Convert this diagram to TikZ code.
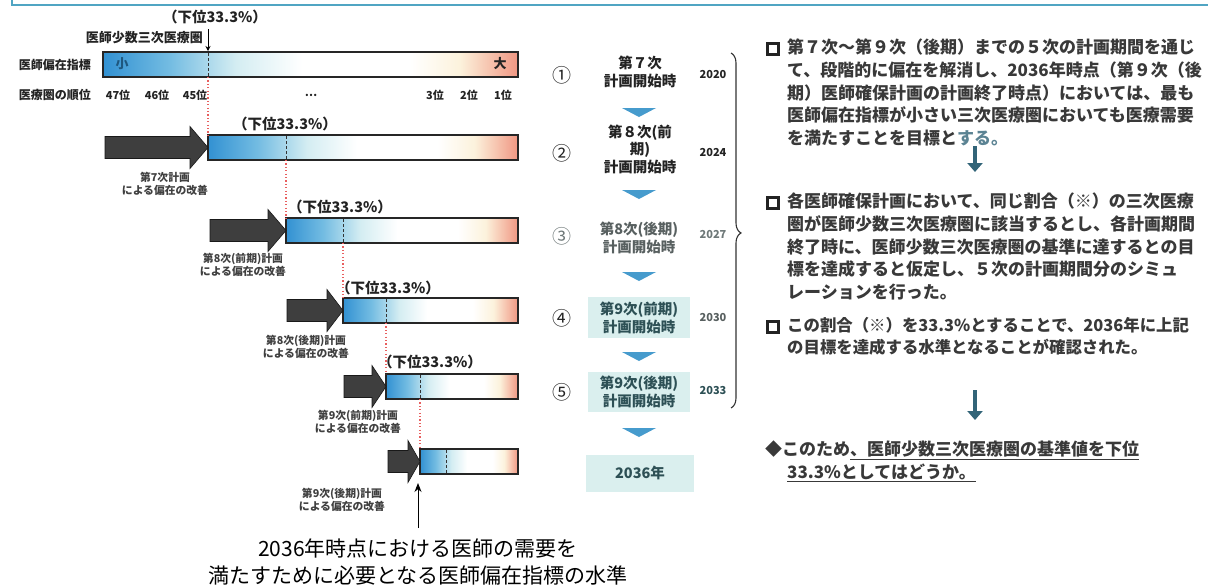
\documentclass[tikz,border=0pt]{standalone}
\usepackage{fontspec}
\setmainfont{Noto Sans CJK JP}
\usetikzlibrary{decorations.pathreplacing,arrows.meta}
\definecolor{barblue}{RGB}{50,145,210}
\definecolor{barmid}{RGB}{115,188,226}
\definecolor{barcyan}{RGB}{212,237,242}
\definecolor{barcream}{RGB}{252,242,220}
\definecolor{barpink}{RGB}{240,150,130}
\definecolor{arrowgray}{RGB}{62,62,62}
\definecolor{reddot}{RGB}{232,95,95}
\definecolor{triblue}{RGB}{70,155,205}
\definecolor{tealbox}{RGB}{218,239,238}
\definecolor{tealtext}{RGB}{45,80,85}
\definecolor{fadetext}{RGB}{110,120,120}
\definecolor{topline}{RGB}{80,165,195}
\definecolor{textdark}{RGB}{35,35,35}
\definecolor{arrowteal}{RGB}{50,100,120}
\pgfdeclarehorizontalshading{barshade}{100bp}{color(0bp)=(barblue); color(25bp)=(barblue); color(33bp)=(barmid); color(41bp)=(barcyan); color(49bp)=(white); color(62bp)=(white); color(68bp)=(barcream); color(75bp)=(barpink); color(100bp)=(barpink)}
\tikzset{
  barbox/.style={draw=black!85, line width=1.2pt},
  barmarker/.style={draw=black!80, line width=1pt, dash pattern=on 3pt off 2pt},
  reddots/.style={draw=reddot, line width=1.1pt, dash pattern=on 1.2pt off 2.2pt},
  blockarr/.style={fill=arrowgray, draw=black!90, line width=0.6pt},
  pctlabel/.style={font=\fontsize{14.5}{16}\selectfont\bfseries, text=textdark, inner sep=0pt},
  capnote/.style={font=\fontsize{10.8}{13}\selectfont\bfseries, text=black!75, align=center, inner sep=0pt},
  sidelabel/.style={font=\fontsize{12}{14}\selectfont\bfseries, text=textdark, inner sep=0pt},
  ranklabel/.style={font=\fontsize{11}{13}\selectfont\bfseries, text=textdark, inner sep=0pt},
  circnum/.style={font=\fontsize{19}{20}\selectfont, text=textdark, inner sep=0pt},
  stagetext/.style={font=\fontsize{14.5}{17.5}\selectfont\bfseries, text=textdark, align=center, inner sep=0pt},
  yearlabel/.style={font=\fontsize{11}{13}\selectfont\bfseries, text=textdark, inner sep=0pt},
  downtri/.style={fill=triblue, draw=none},
  bodytext/.style={font=\fontsize{17}{22.6}\selectfont\bfseries, text=textdark!90!white, align=left, inner sep=0pt, anchor=north west},
  bulletsq/.style={draw=textdark, line width=2.4pt, minimum size=11pt, inner sep=0pt},
  downarr/.style={draw=arrowteal, line width=3.2pt, -{Triangle[length=9pt,width=15pt]}},
  bottomtxt/.style={font=\fontsize{21}{27}\selectfont, text=black, inner sep=0pt}
}
\begin{document}
\begin{tikzpicture}[x=1pt,y=-1pt]
\useasboundingbox (0,0) rectangle (1208,587);
\fill[white] (0,0) rectangle (1208,587);
% top frame edge
\draw[topline, line width=2pt] (12,0) -- (12,5) -- (1208,5);

% left labels
\node[sidelabel] (lblidx) at (55,65) {医師偏在指標};
\node[sidelabel] (lblrank) at (55,95) {医療圏の順位};
\node[pctlabel] (pct0) at (215,17) {（下位33.3\%）};
\node[sidelabel, anchor=east, font=\fontsize{13}{15}\selectfont\bfseries] (shosu) at (203,38) {医師少数三次医療圏};
\coordinate (shosuarr) at (208,29);

% bars
\foreach \L/\T/\M [count=\i] in {103/52/208, 208/135/286, 286/218/343, 343/298/386, 386/374/420, 420/449/446}{
  \path[shading=barshade] (\L,\T) rectangle (518,\T+25);
  \draw[barbox] (\L,\T) rectangle (518,\T+25);
  \draw[barmarker] (\M,\T+1) -- (\M,\T+24);
  \coordinate (bartop\i) at (\L,\T);
  \coordinate (barbot\i) at (\M,\T+25);
}
\draw[-{Stealth[length=5pt,width=5pt]}, line width=0.9pt, black] (shosuarr) -- (208,51);

% red dotted guides
\draw[reddots] (barbot1) -- (bartop2);
\draw[reddots] (barbot2) -- (bartop3);
\draw[reddots] (barbot3) -- (bartop4);
\draw[reddots] (barbot4) -- (bartop5);
\draw[reddots] (barbot5) -- (bartop6);

% block arrows
\foreach \a/\b/\c/\h in {105/208/147.5/18, 210/286/230.5/18, 287/343/310.5/16, 344/386/386.5/14, 388/420/461.5/12}{
  \draw[blockarr] (\a,\c-11) -- (\b-\h,\c-11) -- (\b-\h,\c-21) -- (\b,\c) -- (\b-\h,\c+21) -- (\b-\h,\c+11) -- (\a,\c+11) -- cycle;
}

% bar labels
\node[ranklabel, text=barblue!60!black, font=\fontsize{13}{15}\selectfont\bfseries] (small) at (122,64) {小};
\node[ranklabel, font=\fontsize{13}{15}\selectfont\bfseries] (big) at (500,64) {大};
\node[ranklabel] (r47) at (118,95) {47位};
\node[ranklabel] (r46) at (157,95) {46位};
\node[ranklabel] (r45) at (195,95) {45位};
\node[ranklabel] (rdots) at (311,95) {…};
\node[ranklabel] (r3) at (435,95) {3位};
\node[ranklabel] (r2) at (469,95) {2位};
\node[ranklabel] (r1) at (503,95) {1位};

\node[pctlabel] (pct1) at (285,124) {（下位33.3\%）};
\node[pctlabel] (pct2) at (340,207) {（下位33.3\%）};
\node[pctlabel] (pct3) at (388,288) {（下位33.3\%）};
\node[pctlabel] (pct4) at (430,362) {（下位33.3\%）};

\node[capnote] (cap1) at (165,184) {第7次計画\\による偏在の改善};
\node[capnote] (cap2) at (243,265) {第8次(前期)計画\\による偏在の改善};
\node[capnote] (cap3) at (306,347) {第8次(後期)計画\\による偏在の改善};
\node[capnote] (cap4) at (358,422) {第9次(前期)計画\\による偏在の改善};
\node[capnote] (cap5) at (342,500) {第9次(後期)計画\\による偏在の改善};

% up arrow and bottom text
\coordinate (upfoot) at (418,528);
\draw[-{Stealth[length=9pt,width=7pt]}, line width=1pt] (upfoot) -- (418,483);
\node[bottomtxt] (bt1) at (418,548) {2036年時点における医師の需要を};
\node[bottomtxt] (bt2) at (418,575) {満たすために必要となる医師偏在指標の水準};

% middle column
\fill[tealbox] (588,297) rectangle (690,338);
\fill[tealbox] (588,372) rectangle (690,412);
\fill[tealbox] (586,455) rectangle (694,492);
\node[circnum] (c1) at (562,75) {①};
\node[circnum] (c2) at (562,153) {②};
\node[circnum, text=fadetext] (c3) at (562,236) {③};
\node[circnum] (c4) at (562,318) {④};
\node[circnum] (c5) at (562,392) {⑤};
\node[stagetext] (s1) at (640,72) {第７次\\計画開始時};
\node[stagetext] (s2) at (640,149) {第８次(前\\期)\\計画開始時};
\node[stagetext, text=fadetext!80!black] (s3) at (639,238) {第8次(後期)\\計画開始時};
\node[stagetext, text=tealtext] (s4) at (639,318) {第9次(前期)\\計画開始時};
\node[stagetext, text=tealtext] (s5) at (639,392) {第9次(後期)\\計画開始時};
\node[stagetext, text=tealtext] (s6) at (640,473) {2036年};
\foreach \t in {108,190,272,352,428}{
  \fill[downtri] (622,\t) -- (656,\t) -- (639,\t+9) -- cycle;
}
\node[yearlabel] (y1) at (713,75) {2020};
\node[yearlabel] (y2) at (713,153) {2024};
\node[yearlabel, text=fadetext] (y3) at (713,235) {2027};
\node[yearlabel, text=fadetext!80!black] (y4) at (713,318) {2030};
\node[yearlabel, text=tealtext] (y5) at (713,391) {2033};
\coordinate (brtop) at (731,53);
\coordinate (brbot) at (731,408);
\draw[decorate, decoration={brace, amplitude=10pt, aspect=0.507}, line width=1.1pt, black!80] (brtop) -- (brbot);

% right column text
\node[bulletsq] (b1) at (773,49) {};
\node[bodytext] (t1) at (787,39) {第７次～第９次（後期）までの５次の計画期間を通じ\\て、段階的に偏在を解消し、2036年時点（第９次（後\\期）医師確保計画の計画終了時点）においては、最も\\医師偏在指標が小さい三次医療圏においても医療需要\\を満たすことを目標と\textcolor{arrowteal!80!white}{する。}};
\coordinate (a1s) at (975,146);
\coordinate (a1e) at (975,172);
\draw[downarr] (a1s) -- (a1e);
\node[bulletsq] (b2) at (773,203) {};
\node[bodytext] (t2) at (787,193) {各医師確保計画において、同じ割合（※）の三次医療\\圏が医師少数三次医療圏に該当するとし、各計画期間\\終了時に、医師少数三次医療圏の基準に達するとの目\\標を達成すると仮定し、５次の計画期間分のシミュ\\レーションを行った。};
\node[bulletsq] (b3) at (773,327) {};
\node[bodytext, font=\fontsize{16.4}{22.6}\selectfont\bfseries] (t3) at (787,317) {この割合（※）を33.3\%とすることで、2036年に上記\\の目標を達成する水準となることが確認された。};
\coordinate (a2s) at (975,390);
\coordinate (a2e) at (975,420);
\draw[downarr] (a2s) -- (a2e);
\node[bodytext, anchor=north west] (t4) at (765,441) {◆このため\underline{、医師少数三次医療圏の基準値を下位}\\\hspace*{22pt}\underline{33.3\%としてはどうか。}};
\end{tikzpicture}
\end{document}
